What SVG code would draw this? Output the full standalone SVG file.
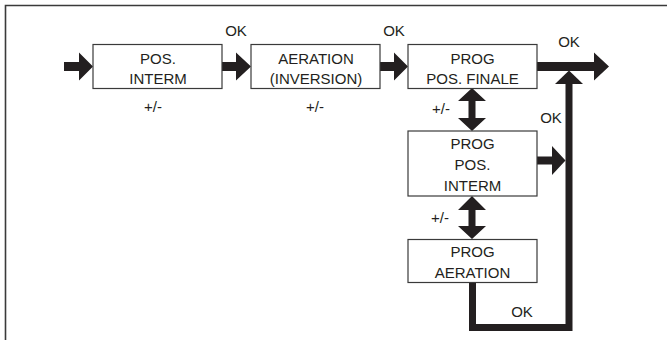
<svg xmlns="http://www.w3.org/2000/svg" width="667" height="340" viewBox="0 0 667 340">
<style>
.box{fill:#fff;stroke:#3a3a3a;stroke-width:1.2}
.t{font-family:"Liberation Sans","DejaVu Sans",sans-serif;font-size:15px;fill:#231f20;text-anchor:middle}
.a{fill:#231f20}
.l{fill:none;stroke:#231f20;stroke-width:7}
</style>
<rect width="667" height="340" fill="#fff"/>
<path d="M5.5 340 V5.5 H667" fill="none" stroke="#3a3a3a" stroke-width="1.6"/>
<g id="connectors">
<polygon class="a" points="64,62 79,62 79,52.5 93,66.5 79,80.5 79,71 64,71"/>
<polygon class="a" points="222,62 236,62 236,52.5 251,66.5 236,80.5 236,71 222,71"/>
<polygon class="a" points="380,62 394,62 394,52.5 408,66.5 394,80.5 394,71 380,71"/>
<polygon class="a" points="537,62 594,62 594,52.5 609,66.5 594,80.5 594,71 537,71"/>
<polygon class="a" points="472,88 486,101 475.5,101 475.5,118 486,118 472,131 458,118 468.5,118 468.5,101 458,101"/>
<polygon class="a" points="472,196 486,210 475.5,210 475.5,226 486,226 472,239 458,226 468.5,226 468.5,210 458,210"/>
<polygon class="a" points="537,156.5 552,156.5 552,146 565.5,160.5 552,175 552,164.5 537,164.5"/>
<path class="l" d="M472.5 282.5 V327.5 H569 V83"/>
<polygon class="a" points="555,84 569,70.5 583,84"/>
<text class="t" x="236" y="36">OK</text>
<text class="t" x="394" y="36">OK</text>
<text class="t" x="569" y="47">OK</text>
<text class="t" x="551" y="123">OK</text>
<text class="t" x="522" y="317">OK</text>
<text class="t" x="153" y="112">+/-</text>
<text class="t" x="315" y="112">+/-</text>
<text class="t" x="441" y="114">+/-</text>
<text class="t" x="440" y="223">+/-</text>
</g>
<g id="pos-interm">
<rect class="box" x="93" y="44.5" width="129" height="44"/>
<text class="t" x="158" y="63.5">POS.</text>
<text class="t" x="158" y="83.5">INTERM</text>
</g>
<g id="aeration-inversion">
<rect class="box" x="251" y="44.5" width="129" height="44"/>
<text class="t" x="316" y="63.5">AERATION</text>
<text class="t" x="316" y="83.5">(INVERSION)</text>
</g>
<g id="prog-pos-finale">
<rect class="box" x="408" y="44.5" width="129" height="44"/>
<text class="t" x="472.5" y="63.5">PROG</text>
<text class="t" x="472.5" y="83.5">POS. FINALE</text>
</g>
<g id="prog-pos-interm">
<rect class="box" x="408" y="131" width="129" height="65"/>
<text class="t" x="472.5" y="149">PROG</text>
<text class="t" x="472.5" y="170">POS.</text>
<text class="t" x="472.5" y="191">INTERM</text>
</g>
<g id="prog-aeration">
<rect class="box" x="408" y="239.5" width="129" height="43"/>
<text class="t" x="472.5" y="257">PROG</text>
<text class="t" x="472.5" y="277.5">AERATION</text>
</g>
</svg>
